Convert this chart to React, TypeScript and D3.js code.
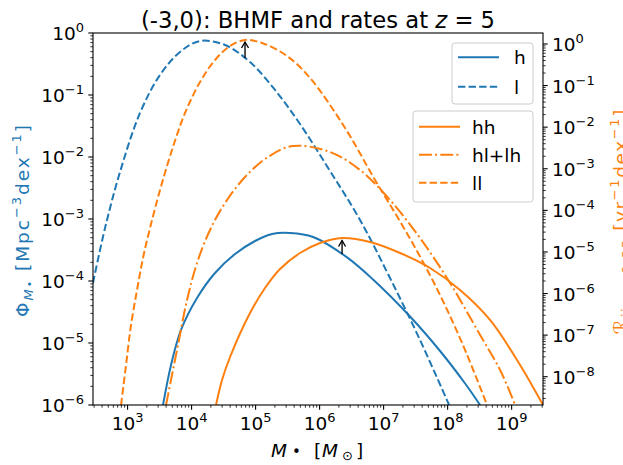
import React from 'react';
import * as d3 from 'd3';

// ---------- data (log10 values) ----------
const hLogM = [3.554, 3.679, 3.835, 4.085, 4.366, 4.679, 4.991, 5.257, 5.538, 5.898, 6.429, 6.835, 7.413, 7.882, 8.273, 8.507];
const hLogPhi = [-6.0, -5.355, -4.79, -4.274, -3.871, -3.565, -3.355, -3.242, -3.226, -3.29, -3.619, -3.976, -4.573, -5.129, -5.653, -6.0];

const lLogM = [2.46, 2.648, 2.882, 3.194, 3.507, 3.819, 4.132, 4.523, 4.913, 5.304, 5.694, 6.163, 6.632, 7.10, 7.569, 8.023];
const lLogPhi = [-4.032, -3.145, -2.242, -1.29, -0.677, -0.306, -0.129, -0.194, -0.468, -0.919, -1.468, -2.226, -3.016, -3.952, -4.952, -6.0];

const hhLogM = [4.382, 4.476, 4.601, 4.913, 5.147, 5.382, 5.694, 6.007, 6.351, 6.788, 7.257, 7.726, 8.194, 8.663, 9.132, 9.49];
const hhLogR = [-8.68, -8.079, -7.526, -6.468, -5.867, -5.41, -5.025, -4.785, -4.665, -4.761, -5.025, -5.386, -5.915, -6.636, -7.718, -8.68];

const hlLogM = [3.601, 3.694, 3.788, 3.929, 4.085, 4.288, 4.523, 4.835, 5.194, 5.585, 6.163, 6.632, 7.10, 7.569, 8.038, 8.507, 8.82, 9.054];
const hlLogR = [-8.68, -7.959, -7.237, -6.155, -5.266, -4.472, -3.823, -3.198, -2.717, -2.452, -2.597, -3.03, -3.751, -4.665, -5.747, -6.997, -7.838, -8.68];

const llLogM = [2.898, 2.976, 3.054, 3.148, 3.241, 3.351, 3.507, 3.694, 3.898, 4.132, 4.366, 4.601, 4.835, 5.101, 5.491, 5.851, 6.398, 6.866, 7.335, 7.804, 8.226, 8.616];
const llLogR = [-8.68, -7.718, -6.756, -5.915, -5.146, -4.424, -3.511, -2.549, -1.659, -0.914, -0.385, -0.048, 0.096, 0.024, -0.289, -0.818, -2.02, -3.27, -4.472, -5.795, -7.189, -8.68];

const arrowLogM = [4.835, 6.351];
const arrowTipLogR = [0.048, -4.725];
const arrowTailLogR = [-0.337, -5.049];

const xLimLog = [2.46, 9.49];
const yLeftLimLog = [-6, 0];
const yRightLimLog = [-8.68, 0.264];

const legendLeft = ['h', 'l'];
const legendRight = ['hh', 'hl+lh', 'll'];

// ---------- styling ----------
const BLUE = '#1f77b4';
const ORANGE = '#ff7f0e';
const FONT = 'DejaVu Sans';
const L = 93, R = 543, T = 33, B = 405;
const DASH = '7.4,3.2';
const DASHDOT = '12.9,3.2,2,3.2';

function supStr(e: number) {
  return e < 0 ? '\u2212' + Math.abs(e) : String(e);
}

function isMajor(t: number) {
  const l = Math.log10(t);
  return Math.abs(l - Math.round(l)) < 1e-6;
}

export default function App() {
  const x = d3.scaleLog().domain([10 ** xLimLog[0], 10 ** xLimLog[1]]).range([L, R]);
  const yL = d3.scaleLog().domain([10 ** yLeftLimLog[0], 10 ** yLeftLimLog[1]]).range([B, T]);
  const yR = d3.scaleLog().domain([10 ** yRightLimLog[0], 10 ** yRightLimLog[1]]).range([B, T]);

  const mk = (ms: number[], vs: number[]) => ms.map((m, i) => [m, vs[i]] as [number, number]);
  const lineL = d3.line<[number, number]>().x(d => x(10 ** d[0])).y(d => yL(10 ** d[1])).curve(d3.curveCatmullRom.alpha(0.5));
  const lineR = d3.line<[number, number]>().x(d => x(10 ** d[0])).y(d => yR(10 ** d[1])).curve(d3.curveCatmullRom.alpha(0.5));

  const xt = x.ticks();
  const ylt = yL.ticks();
  const yrt = yR.ticks();

  const fs = 18.5;
  const sfs = 13;

  return (
    <svg width={623} height={465} style={{ position: 'absolute', left: 0, top: 0, background: '#fff' }} fontFamily={FONT}>
      <rect x={0} y={0} width={623} height={465} fill="#fff" />
      <defs>
        <clipPath id="plotclip">
          <rect x={L} y={T} width={R - L} height={B - T} />
        </clipPath>
      </defs>

      {/* curves */}
      <g clipPath="url(#plotclip)" fill="none" strokeWidth={2}>
        <path d={lineL(mk(hLogM, hLogPhi)) || ''} stroke={BLUE} />
        <path d={lineL(mk(lLogM, lLogPhi)) || ''} stroke={BLUE} strokeDasharray={DASH} />
        <path d={lineR(mk(hhLogM, hhLogR)) || ''} stroke={ORANGE} />
        <path d={lineR(mk(hlLogM, hlLogR)) || ''} stroke={ORANGE} strokeDasharray={DASHDOT} />
        <path d={lineR(mk(llLogM, llLogR)) || ''} stroke={ORANGE} strokeDasharray={DASH} />
      </g>

      {/* arrows */}
      {arrowLogM.map((m, i) => {
        const ax = x(10 ** m);
        const ty = yR(10 ** arrowTipLogR[i]);
        const by = yR(10 ** arrowTailLogR[i]);
        return (
          <g key={'a' + i} stroke="#000" strokeWidth={1.35} fill="none">
            <line x1={ax} y1={by} x2={ax} y2={ty} />
            <path d={`M${ax - 3.5},${ty + 6} L${ax},${ty} L${ax + 3.5},${ty + 6}`} />
          </g>
        );
      })}

      {/* frame */}
      <rect x={L} y={T} width={R - L} height={B - T} fill="none" stroke="#000" strokeWidth={1.1} />

      {/* x ticks */}
      {xt.map((t, i) => {
        const px = x(t);
        const maj = isMajor(t);
        return <line key={'xt' + i} x1={px} x2={px} y1={B} y2={B + (maj ? 4.7 : 2.7)} stroke="#000" strokeWidth={maj ? 1.1 : 0.8} />;
      })}
      {xt.filter(isMajor).map((t, i) => (
        <text key={'xl' + i} x={x(t)} y={430} textAnchor="middle" fontSize={fs}>
          10<tspan dy={-8} fontSize={sfs}>{supStr(Math.round(Math.log10(t)))}</tspan>
        </text>
      ))}

      {/* left y ticks */}
      {ylt.map((t, i) => {
        const py = yL(t);
        const maj = isMajor(t);
        return <line key={'ylt' + i} x1={L} x2={L - (maj ? 4.7 : 2.7)} y1={py} y2={py} stroke="#000" strokeWidth={maj ? 1.1 : 0.8} />;
      })}
      {ylt.filter(isMajor).map((t, i) => (
        <text key={'yll' + i} x={84} y={yL(t) + 7} textAnchor="end" fontSize={fs}>
          10<tspan dy={-8} fontSize={sfs}>{supStr(Math.round(Math.log10(t)))}</tspan>
        </text>
      ))}

      {/* right y ticks */}
      {yrt.map((t, i) => {
        const py = yR(t);
        const maj = isMajor(t);
        return <line key={'yrt' + i} x1={R} x2={R + (maj ? 4.7 : 2.7)} y1={py} y2={py} stroke="#000" strokeWidth={maj ? 1.1 : 0.8} />;
      })}
      {yrt.filter(isMajor).map((t, i) => (
        <text key={'yrl' + i} x={552} y={yR(t) + 7} textAnchor="start" fontSize={fs}>
          10<tspan dy={-8} fontSize={sfs}>{supStr(Math.round(Math.log10(t)))}</tspan>
        </text>
      ))}

      {/* title */}
      <text x={318} y={27.5} textAnchor="middle" fontSize={22.7}>
        (-3,0): BHMF and rates at <tspan fontStyle="italic">z</tspan> = 5
      </text>

      {/* x label */}
      <g fontSize={fs}>
        <text x={271} y={456.5} fontStyle="italic">M</text>
        <text x={292} y={457} fontSize={15}>•</text>
        <text x={314} y={456.5}>[</text>
        <text x={322} y={456.5} fontStyle="italic">M</text>
        <text x={342} y={459.5} fontSize={sfs}>⊙</text>
        <text x={356} y={456.5}>]</text>
      </g>

      {/* left y label */}
      <text transform="translate(29,221) rotate(-90)" textAnchor="middle" fontSize={fs} fill={BLUE}
        textLength={192} lengthAdjust="spacing">
        Φ<tspan fontStyle="italic" fontSize={sfs} dy={4}>M</tspan>
        <tspan fontSize={11} dy={0}>•</tspan>
        <tspan dy={-4}> [Mpc</tspan>
        <tspan fontSize={sfs} dy={-8}>−3</tspan>
        <tspan dy={8}>dex</tspan>
        <tspan fontSize={sfs} dy={-8}>−1</tspan>
        <tspan dy={8}>]</tspan>
      </text>

      {/* right y label */}
      <text transform="translate(627,222) rotate(-90)" textAnchor="middle" fontSize={fs} fill={ORANGE}
        textLength={225} lengthAdjust="spacing">
        ℛ<tspan fontSize={sfs} dy={4}><tspan fontStyle="italic">ii</tspan>, <tspan fontStyle="italic">q</tspan>≥0.25</tspan>
        <tspan dy={-4}> [yr</tspan>
        <tspan fontSize={sfs} dy={-8}>−1</tspan>
        <tspan dy={8}>dex</tspan>
        <tspan fontSize={sfs} dy={-8}>−1</tspan>
        <tspan dy={8}>]</tspan>
      </text>

      {/* legend 1 */}
      <rect x={452} y={43} width={81} height={61} rx={3} fill="#fff" fillOpacity={0.8} stroke="#cccccc" strokeWidth={1} />
      {legendLeft.map((name, i) => {
        const ly = 57.3 + i * 29.4;
        return (
          <g key={'lg1' + i}>
            <line x1={458} x2={499} y1={ly} y2={ly} stroke={BLUE} strokeWidth={2} strokeDasharray={i === 1 ? DASH : undefined} />
            <text x={514} y={ly + 7} fontSize={fs}>{name}</text>
          </g>
        );
      })}

      {/* legend 2 */}
      <rect x={413} y={111} width={120} height={91} rx={3} fill="#fff" fillOpacity={0.8} stroke="#cccccc" strokeWidth={1} />
      {legendRight.map((name, i) => {
        const ly = 126.7 + i * 28;
        const dash = i === 0 ? undefined : i === 1 ? DASHDOT : DASH;
        return (
          <g key={'lg2' + i}>
            <line x1={419} x2={460} y1={ly} y2={ly} stroke={ORANGE} strokeWidth={2} strokeDasharray={dash} />
            <text x={472} y={ly + 7} fontSize={fs}>{name}</text>
          </g>
        );
      })}
    </svg>
  );
}
